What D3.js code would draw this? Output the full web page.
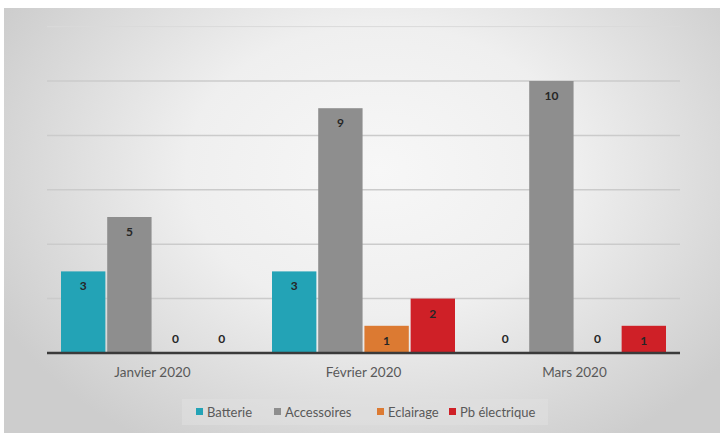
<!DOCTYPE html>
<html><head><meta charset="utf-8">
<script src="https://cdn.jsdelivr.net/npm/d3@7"></script>
<style>body{margin:0;background:#fff}svg{display:block}</style>
</head><body>
<svg id="c" width="720" height="433"></svg>
<script>
const categories = ["Janvier 2020", "Février 2020", "Mars 2020"];
const seriesNames = ["Batterie", "Accessoires", "Eclairage", "Pb électrique"];
const batterie = [3, 3, 0];
const accessoires = [5, 9, 10];
const eclairage = [0, 1, 0];
const pbElectrique = [0, 2, 1];
const yTicks = [2, 4, 6, 8, 10, 12];
const colors = ["#23a3b6", "#8e8e8e", "#dc7a32", "#cf2027"];

const series = [batterie, accessoires, eclairage, pbElectrique];
const svg = d3.select("#c");
const defs = svg.append("defs");
const rg = defs.append("radialGradient").attr("id","bg")
  .attr("gradientUnits","userSpaceOnUse").attr("cx",380).attr("cy",170).attr("r",430)
  .attr("gradientTransform","translate(380,170) scale(1,0.75) translate(-380,-170)");
rg.append("stop").attr("offset","0%").attr("stop-color","#f7f7f7");
rg.append("stop").attr("offset","45%").attr("stop-color","#efefef");
rg.append("stop").attr("offset","100%").attr("stop-color","#cdcdcd");
svg.append("rect").attr("x",4).attr("y",8).attr("width",716).attr("height",425).attr("fill","url(#bg)");

const left = 47, right = 680, base = 353;
const x0 = d3.scaleBand().domain(categories).range([left, right]).paddingInner(0).paddingOuter(0);
const x1 = d3.scaleBand().domain(seriesNames).range([14, x0.bandwidth() - 14]).paddingInner(0.04).paddingOuter(0);
const y = d3.scaleLinear().domain([0, 12]).range([base, base - 12 * 27.2]);

const grid = svg.append("g");
grid.selectAll("line").data(yTicks).join("line")
  .attr("x1", left).attr("x2", right)
  .attr("y1", d => y(d)).attr("y2", d => y(d))
  .attr("stroke", d => d === 12 ? "#dadada" : "#cbcbcb").attr("stroke-width", d => d === 12 ? 1 : 1.5);

const g = svg.append("g");
categories.forEach((c, ci) => {
  const gg = g.append("g").attr("transform", `translate(${x0(c)},0)`);
  seriesNames.forEach((s, si) => {
    const v = series[si][ci];
    if (v > 0) {
      gg.append("rect").attr("x", x1(s)).attr("y", y(v)).attr("width", x1.bandwidth())
        .attr("height", base - y(v)).attr("fill", colors[si]);
    }
    gg.append("text").attr("x", x1(s) + x1.bandwidth() / 2)
      .attr("y", v > 0 ? y(v) + 19 : base - 10)
      .attr("text-anchor", "middle").attr("font-family", "Lato, 'Open Sans', sans-serif")
      .attr("font-size", 12).attr("font-weight", "bold").attr("fill", "#262626").text(v);
  });
});

svg.append("line").attr("x1", left).attr("x2", right).attr("y1", base).attr("y2", base)
  .attr("stroke", "#3a3a3a").attr("stroke-width", 2.5);

const xAxis = d3.axisBottom(x0).tickSize(0).tickPadding(0);
const ax = svg.append("g").attr("transform", `translate(0,${base + 14})`).call(xAxis);
ax.select(".domain").remove();
ax.selectAll("text").attr("font-family", "Lato, 'Open Sans', sans-serif").attr("font-size", 13.5)
  .attr("fill", "#595959").attr("dy", "0.71em");

// legend
svg.append("rect").attr("x", 182).attr("y", 399).attr("width", 366).attr("height", 26).attr("fill", "#e0e0e0").attr("opacity", 0.6);
const legX = [196, 274, 377, 449];
const lg = svg.append("g");
seriesNames.forEach((s, i) => {
  lg.append("rect").attr("x", legX[i]).attr("y", 408).attr("width", 7).attr("height", 7).attr("fill", colors[i]);
  lg.append("text").attr("x", legX[i] + 11).attr("y", 416.5).attr("font-family", "Lato, 'Open Sans', sans-serif")
    .attr("font-size", 13).attr("fill", "#595959").text(s);
});
</script>
</body></html>
